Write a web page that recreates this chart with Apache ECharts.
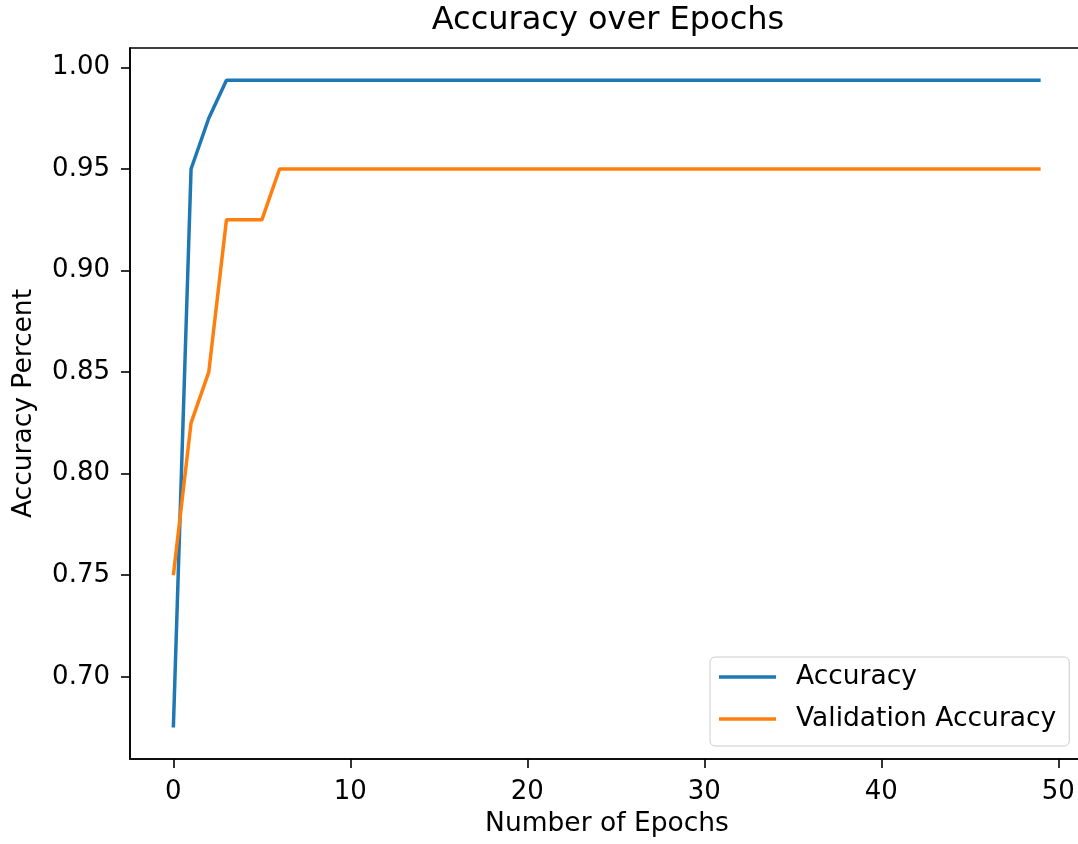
<!DOCTYPE html>
<html>
<head>
<meta charset="utf-8">
<title>Accuracy over Epochs</title>
<script src="https://cdn.jsdelivr.net/npm/echarts@6/dist/echarts.min.js"></script>
<style>
  html, body { margin: 0; padding: 0; background: #fff; }
  #chart { width: 1078px; height: 844px; }
</style>
</head>
<body>
<div id="chart"></div>
<script>
// values
const epochs = [
  0, 1, 2, 3, 4, 5, 6, 7, 8, 9,
  10, 11, 12, 13, 14, 15, 16, 17, 18, 19,
  20, 21, 22, 23, 24, 25, 26, 27, 28, 29,
  30, 31, 32, 33, 34, 35, 36, 37, 38, 39,
  40, 41, 42, 43, 44, 45, 46, 47, 48, 49
]
const accuracy = [
  0.675, 0.95, 0.975, 0.99375, 0.99375, 0.99375, 0.99375, 0.99375, 0.99375, 0.99375,
  0.99375, 0.99375, 0.99375, 0.99375, 0.99375, 0.99375, 0.99375, 0.99375, 0.99375, 0.99375,
  0.99375, 0.99375, 0.99375, 0.99375, 0.99375, 0.99375, 0.99375, 0.99375, 0.99375, 0.99375,
  0.99375, 0.99375, 0.99375, 0.99375, 0.99375, 0.99375, 0.99375, 0.99375, 0.99375, 0.99375,
  0.99375, 0.99375, 0.99375, 0.99375, 0.99375, 0.99375, 0.99375, 0.99375, 0.99375, 0.99375
]
const valAccuracy = [
  0.75, 0.825, 0.85, 0.925, 0.925, 0.925, 0.95, 0.95, 0.95, 0.95,
  0.95, 0.95, 0.95, 0.95, 0.95, 0.95, 0.95, 0.95, 0.95, 0.95,
  0.95, 0.95, 0.95, 0.95, 0.95, 0.95, 0.95, 0.95, 0.95, 0.95,
  0.95, 0.95, 0.95, 0.95, 0.95, 0.95, 0.95, 0.95, 0.95, 0.95,
  0.95, 0.95, 0.95, 0.95, 0.95, 0.95, 0.95, 0.95, 0.95, 0.95
]
const xTicks = [0, 10, 20, 30, 40, 50]
const yTicks = [0.70, 0.75, 0.80, 0.85, 0.90, 0.95, 1.00]

const FONT = 'DejaVu Sans'
const chart = echarts.init(document.getElementById('chart'))

const pairs = (ys) => epochs.map((x, i) => [x, ys[i]])

const axisCommon = {
  axisLine: { show: true, onZero: false, lineStyle: { color: '#000', width: 1.6 } },
  axisTick: { show: true, length: 9, lineStyle: { color: '#000', width: 1.6 } },
  splitLine: { show: false },
  nameTextStyle: { fontFamily: FONT, fontSize: 26.5, color: '#000' }
}

const option = {
  animation: false,
  backgroundColor: '#fff',
  title: {
    text: 'Accuracy over Epochs',
    left: 603,
    textAlign: 'center',
    top: 0,
    textStyle: { fontFamily: FONT, fontSize: 32, fontWeight: 'normal', color: '#000' }
  },
  grid: {
    left: 130,
    width: 954,
    top: 48,
    bottom: 85,
    containLabel: false,
    outerBoundsMode: 'none',
    show: true,
    borderColor: '#000',
    borderWidth: 1.6,
    backgroundColor: 'transparent'
  },
  legend: {
    orient: 'vertical',
    left: 710,
    top: 657,
    padding: [5, 13, 12, 9],
    itemGap: 12,
    itemWidth: 57,
    itemHeight: 3.5,
    icon: 'rect',
    backgroundColor: 'rgba(255,255,255,0.8)',
    borderColor: '#cccccc',
    borderWidth: 1,
    borderRadius: 5,
    textStyle: {
      fontFamily: FONT,
      fontSize: 26.5,
      color: '#000',
      lineHeight: 30,
      padding: [0, 0, 0, 15]
    },
    data: ['Accuracy', 'Validation Accuracy']
  },
  xAxis: {
    ...axisCommon,
    type: 'value',
    min: -2.45,
    max: 51.45,
    name: 'Number of Epochs',
    nameLocation: 'middle',
    nameGap: 52,
    axisTick: { ...axisCommon.axisTick, customValues: xTicks },
    axisLabel: {
      customValues: xTicks,
      margin: 20,
      fontFamily: FONT,
      fontSize: 26,
      color: '#000'
    }
  },
  yAxis: {
    ...axisCommon,
    type: 'value',
    min: 0.6595,
    max: 1.0096,
    name: 'Accuracy Percent',
    nameLocation: 'middle',
    nameGap: 92,
    axisTick: { ...axisCommon.axisTick, customValues: yTicks },
    axisLabel: {
      customValues: yTicks,
      margin: 20,
      fontFamily: FONT,
      fontSize: 26,
      color: '#000',
      formatter: (v) => v.toFixed(2)
    }
  },
  series: [
    {
      name: 'Accuracy',
      type: 'line',
      data: pairs(accuracy),
      showSymbol: false,
      symbol: 'none',
      lineStyle: { color: '#1f77b4', width: 3.5 },
      itemStyle: { color: '#1f77b4' }
    },
    {
      name: 'Validation Accuracy',
      type: 'line',
      data: pairs(valAccuracy),
      showSymbol: false,
      symbol: 'none',
      lineStyle: { color: '#ff7f0e', width: 3.5 },
      itemStyle: { color: '#ff7f0e' }
    }
  ]
}

chart.setOption(option)
</script>
</body>
</html>
